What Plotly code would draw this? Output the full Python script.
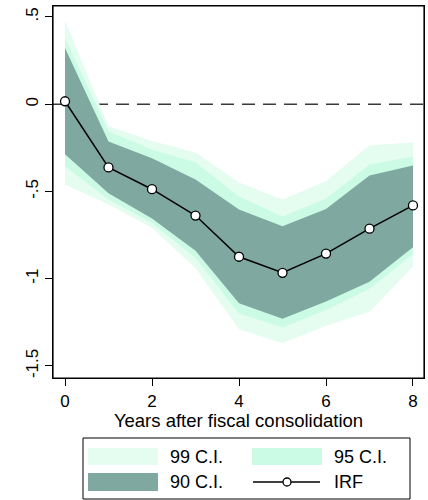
import plotly.graph_objects as go

years = [0, 1, 2, 3, 4, 5, 6, 7, 8]
irf = [0.017, -0.362, -0.487, -0.638, -0.874, -0.966, -0.856, -0.713, -0.580]
up90 = [0.322, -0.213, -0.31, -0.431, -0.603, -0.70, -0.60, -0.408, -0.351]
lo90 = [-0.287, -0.51, -0.655, -0.84, -1.14, -1.23, -1.13, -1.017, -0.82]
up95 = [0.379, -0.155, -0.26, -0.333, -0.529, -0.644, -0.54, -0.345, -0.299]
lo95 = [-0.356, -0.546, -0.68, -0.88, -1.20, -1.28, -1.18, -1.057, -0.86]
up99 = [0.483, -0.126, -0.21, -0.276, -0.448, -0.546, -0.44, -0.236, -0.218]
lo99 = [-0.46, -0.575, -0.71, -0.94, -1.29, -1.37, -1.27, -1.19, -0.93]

ytick_vals = [-1.5, -1, -0.5, 0, 0.5]
ytick_text = ["-1.5", "-1", "-.5", "0", ".5"]
xtick_vals = [0, 2, 4, 6, 8]
legend_labels = ["99 C.I.", "95 C.I.", "90 C.I.", "IRF"]

c99 = "#e5fdf1"
c95 = "#ccfbe5"
c90 = "#7fa8a1"

FONT = "Liberation Sans, Arial, Helvetica, sans-serif"
W, H = 428, 500
L, R, T, B = 53, 4, 6, 122
PW, PH = W - L - R, H - T - B


def px(x):
    return (x - L) / PW


def py(y):
    return (H - B - y) / PH


fig = go.Figure()


def band(up, lo, color, name):
    fig.add_trace(go.Scatter(
        x=years + years[::-1], y=up + lo[::-1], fill="toself",
        fillcolor=color, line=dict(width=0, color=color), mode="lines",
        name=name, showlegend=False, hoverinfo="skip"))


band(up99, lo99, c99, legend_labels[0])
band(up95, lo95, c95, legend_labels[1])
band(up90, lo90, c90, legend_labels[2])

fig.add_trace(go.Scatter(
    x=years, y=irf, mode="lines+markers", name=legend_labels[3],
    line=dict(color="black", width=1.5),
    marker=dict(symbol="circle", size=9, color="white",
                line=dict(color="black", width=1.3)),
    showlegend=False))

shapes = [
    dict(type="line", xref="paper", yref="y", x0=0, x1=1, y0=0, y1=0,
         line=dict(color="#3a3a3a", width=1.5, dash="13px,8px"), layer="below"),
    # plot frame
    dict(type="rect", xref="paper", yref="paper", x0=0, x1=1, y0=0, y1=1,
         line=dict(color="black", width=1.2), fillcolor="rgba(0,0,0,0)"),
    # legend box
    dict(type="rect", xref="paper", yref="paper", x0=px(83), x1=px(410),
         y0=py(438), y1=py(499), line=dict(color="black", width=1),
         fillcolor="white"),
    dict(type="rect", xref="paper", yref="paper", x0=px(88), x1=px(158),
         y0=py(448), y1=py(465), line=dict(width=0), fillcolor=c99),
    dict(type="rect", xref="paper", yref="paper", x0=px(252), x1=px(322),
         y0=py(448), y1=py(465), line=dict(width=0), fillcolor=c95),
    dict(type="rect", xref="paper", yref="paper", x0=px(88), x1=px(158),
         y0=py(473), y1=py(491), line=dict(width=0), fillcolor=c90),
    dict(type="line", xref="paper", yref="paper", x0=px(253), x1=px(320),
         y0=py(482), y1=py(482), line=dict(color="black", width=1.5)),
    dict(type="circle", xref="paper", yref="paper", x0=px(283), x1=px(291),
         y0=py(486), y1=py(478), line=dict(color="black", width=1.3),
         fillcolor="white"),
]

annotations = []
for lab, (xx, yy) in zip(legend_labels, [(168, 457), (332, 457), (168, 482), (332, 482)]):
    annotations.append(dict(text=lab, xref="paper", yref="paper", x=px(xx), y=py(yy),
                            xanchor="left", yanchor="middle", showarrow=False,
                            font=dict(family=FONT, size=18, color="black")))

fig.update_layout(
    width=W, height=H, margin=dict(l=L, r=R, t=T, b=B, autoexpand=False),
    paper_bgcolor="white", plot_bgcolor="white",
    font=dict(family=FONT, color="black"),
    shapes=shapes, annotations=annotations, showlegend=False,
    xaxis=dict(range=[-0.276, 8.253], tickvals=xtick_vals, ticks="outside",
               ticklen=7, tickwidth=1, tickcolor="black", showgrid=False,
               zeroline=False, showline=True, linecolor="black", linewidth=1.2,
               mirror=True, tickfont=dict(size=17, family=FONT),
               title=dict(text="Years after fiscal consolidation",
                          font=dict(size=18.5, family=FONT), standoff=0),
               automargin=False),
    yaxis=dict(range=[-1.569, 0.563], tickvals=ytick_vals, ticktext=ytick_text,
               tickangle=-90, ticks="outside", ticklen=7, tickwidth=1,
               tickcolor="black", showgrid=False, zeroline=False, showline=True,
               linecolor="black", linewidth=1.2, mirror=True,
               tickfont=dict(size=17, family=FONT), automargin=False),
)

fig.write_html("out.html", config={"displayModeBar": False},
               post_script="document.body.style.margin='0';document.body.style.overflow='hidden';")
